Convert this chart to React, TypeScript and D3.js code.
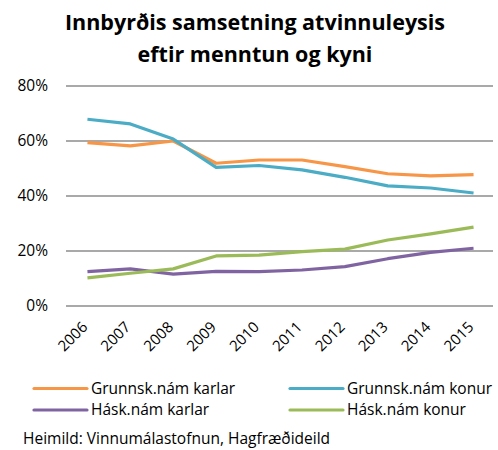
import * as d3 from 'd3';
import { useEffect, useRef } from 'react';

const years = ['2006', '2007', '2008', '2009', '2010', '2011', '2012', '2013', '2014', '2015'];
const grunnKarlar = [59.4, 58.2, 60.0, 51.9, 53.1, 53.1, 50.7, 48.1, 47.3, 47.8];
const grunnKonur = [67.9, 66.2, 60.7, 50.4, 51.1, 49.5, 46.8, 43.7, 42.9, 41.1];
const haskKarlar = [12.5, 13.5, 11.6, 12.6, 12.5, 13.1, 14.3, 17.2, 19.5, 21.0];
const haskKonur = [10.2, 11.9, 13.5, 18.2, 18.5, 19.8, 20.7, 24.0, 26.2, 28.7];
const yTicks = [0, 20, 40, 60, 80];

const series = [
  { name: 'Grunnsk.nám karlar', values: grunnKarlar, color: '#F79646' },
  { name: 'Grunnsk.nám konur', values: grunnKonur, color: '#4BACC6' },
  { name: 'Hásk.nám karlar', values: haskKarlar, color: '#8064A2' },
  { name: 'Hásk.nám konur', values: haskKonur, color: '#9BBB59' },
];

const font = '"Open Sans", "Noto Sans", sans-serif';

const App = () => {
  const ref = useRef<SVGSVGElement>(null);

  useEffect(() => {
    if (!ref.current) return;
    const width = 498;
    const height = 450;
    const margin = { top: 86, right: 3, bottom: 144, left: 66 };

    const svg = d3.select(ref.current);
    svg.selectAll('*').remove();

    svg.append('rect').attr('width', width).attr('height', height).attr('fill', '#fff');

    // title
    const title = svg.append('text')
      .attr('text-anchor', 'middle')
      .attr('font-family', font)
      .attr('font-weight', 'bold')
      .attr('font-size', 21.5)
      .attr('fill', '#000');
    title.append('tspan').attr('x', 255).attr('y', 30).text('Innbyrðis samsetning atvinnuleysis');
    title.append('tspan').attr('x', 255).attr('y', 62).text('eftir menntun og kyni');

    const x = d3.scaleBand()
      .domain(years)
      .range([margin.left, width - margin.right]);

    const y = d3.scaleLinear()
      .domain([0, 80])
      .range([height - margin.bottom, margin.top]);

    // gridlines
    svg.append('g')
      .selectAll('line')
      .data(yTicks)
      .join('line')
      .attr('x1', margin.left)
      .attr('x2', width - margin.right - 2)
      .attr('y1', d => y(d))
      .attr('y2', d => y(d))
      .attr('stroke', '#8c8c8c')
      .attr('stroke-width', 1.3);

    // y labels
    svg.append('g')
      .selectAll('text')
      .data(yTicks)
      .join('text')
      .attr('x', 48)
      .attr('y', d => y(d))
      .attr('dy', '0.35em')
      .attr('text-anchor', 'end')
      .attr('font-family', font)
      .attr('font-size', 15.5)
      .attr('fill', '#000')
      .text(d => `${d}%`);

    // x labels
    svg.append('g')
      .selectAll('text')
      .data(years)
      .join('text')
      .attr('transform', d => `translate(${(x(d) || 0) + x.bandwidth() / 2 + 1},${y(0) + 22}) rotate(-45)`)
      .attr('text-anchor', 'end')
      .attr('font-family', font)
      .attr('font-size', 15)
      .attr('fill', '#000')
      .text(d => d);

    const line = d3.line<number>()
      .x((_, i) => (x(years[i]) || 0) + x.bandwidth() / 2)
      .y(d => y(d));

    svg.append('g')
      .selectAll('path')
      .data(series)
      .join('path')
      .attr('d', d => line(d.values))
      .attr('fill', 'none')
      .attr('stroke', d => d.color)
      .attr('stroke-width', 3.2)
      .attr('stroke-linejoin', 'round');

    // legend
    const legend = svg.append('g')
      .selectAll('g')
      .data(series)
      .join('g')
      .attr('transform', (_, i) => `translate(${i % 2 === 0 ? 34 : 290},${i < 2 ? 388.5 : 410})`);

    legend.append('line')
      .attr('x1', 0)
      .attr('x2', 53)
      .attr('stroke', d => d.color)
      .attr('stroke-width', 3.2)
      .attr('stroke-linecap', 'round');

    legend.append('text')
      .attr('x', 57)
      .attr('dy', '0.35em')
      .attr('font-family', font)
      .attr('font-size', 15.5)
      .attr('fill', '#000')
      .text(d => d.name);

    svg.append('text')
      .attr('x', 23)
      .attr('y', 444)
      .attr('font-family', font)
      .attr('font-size', 15.5)
      .attr('fill', '#000')
      .text('Heimild: Vinnumálastofnun, Hagfræðideild');
  }, []);

  return (
    <svg
      ref={ref}
      width={498}
      height={450}
      style={{ display: 'block', position: 'absolute', left: 0, top: 0 }}
    />
  );
};

export default App;
